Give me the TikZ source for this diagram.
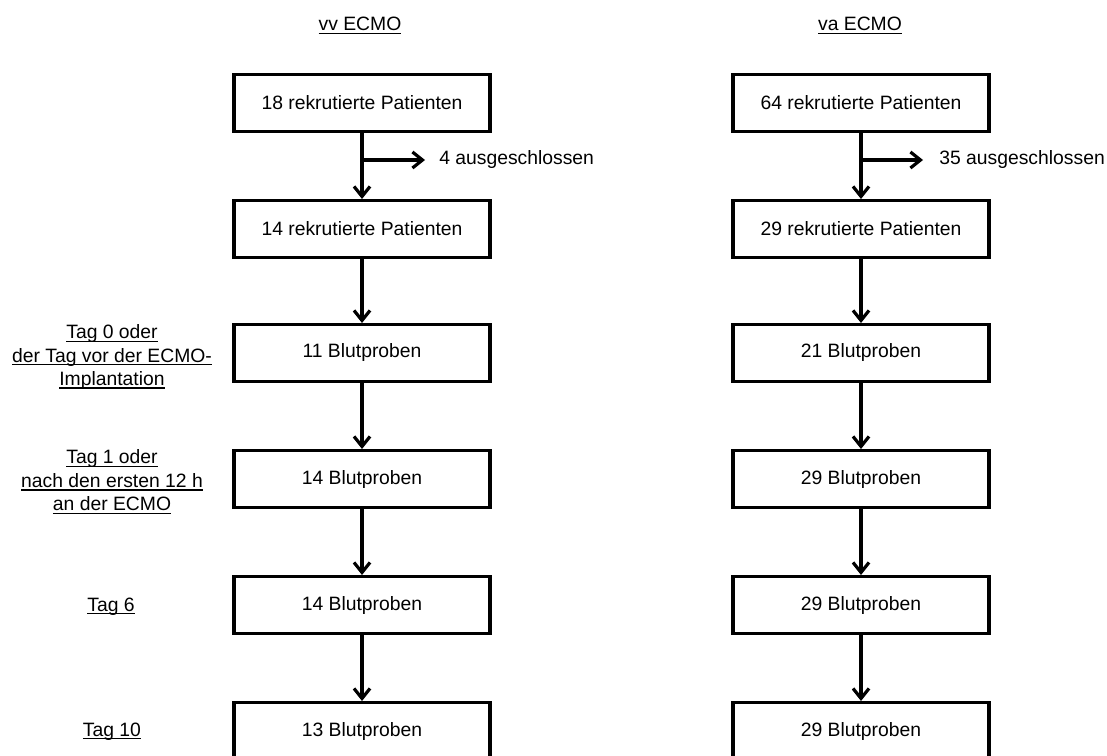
\documentclass[tikz,border=0pt]{standalone}
\usepackage{fontspec}
\setmainfont{Liberation Sans}
\newsavebox\ulbox
\newcommand\myul[1]{\leavevmode\sbox\ulbox{#1}\rlap{\rule[-2.6pt]{\wd\ulbox}{1.1pt}}\usebox\ulbox}
\usetikzlibrary{arrows.meta}
\begin{document}
\begin{tikzpicture}[x=0.75pt,y=-0.75pt,
  txt/.style={font=\fontsize{14.5}{17.6}\selectfont},
  box/.style={txt,draw,line width=2.5pt,minimum width=192pt,minimum height=42.5pt,inner sep=0pt},
  lbl/.style={txt,inner sep=0pt,align=center},
  arr/.style={line width=2.4pt,-{Straight Barb[length=7.5pt,width=12pt]}}]
\useasboundingbox (0,0) rectangle (1107,756);
% titles
\node[lbl,anchor=base] (t1) at (360,31) {\myul{vv ECMO}};
\node[lbl,anchor=base] (t2) at (860,31) {\myul{va ECMO}};
% left column
\node[box] (l1) at (362,103) {18 rekrutierte Patienten};
\node[box] (l2) at (362,229) {14 rekrutierte Patienten};
\node[box] (l3) at (362,353) {11 Blutproben};
\node[box] (l4) at (362,479) {14 Blutproben};
\node[box] (l5) at (362,605) {14 Blutproben};
\node[box] (l6) at (362,731) {13 Blutproben};
% right column
\node[box] (r1) at (861,103) {64 rekrutierte Patienten};
\node[box] (r2) at (861,229) {29 rekrutierte Patienten};
\node[box] (r3) at (861,353) {21 Blutproben};
\node[box] (r4) at (861,479) {29 Blutproben};
\node[box] (r5) at (861,605) {29 Blutproben};
\node[box] (r6) at (861,731) {29 Blutproben};
% exclusions
\coordinate (lb) at (362,160);
\coordinate (rb) at (861,160);
\node[lbl,anchor=west] (lx) at (439,160) {4 ausgeschlossen};
\node[lbl,anchor=west] (rx) at (939,160) {35 ausgeschlossen};
\draw[arr,shorten >=10.5pt] (lb) -- (lx.west);
\draw[arr,shorten >=12pt] (rb) -- (rx.west);
% vertical arrows
\foreach \a/\b in {l1/l2,l2/l3,l3/l4,l4/l5,l5/l6,r1/r2,r2/r3,r3/r4,r4/r5,r5/r6}
  \draw[arr] (\a.south) -- (\b.north);
% time labels
\node[lbl] (d0) at (112,357) {\myul{Tag 0 oder}\\\myul{der Tag vor der ECMO-}\\\myul{Implantation}};
\node[lbl] (d1) at (112,482) {\myul{Tag 1 oder}\\\myul{nach den ersten 12 h}\\\myul{an der ECMO}};
\node[lbl,anchor=base] (d6) at (111,611) {\myul{Tag 6}};
\node[lbl,anchor=base] (d10) at (112,736) {\myul{Tag 10}};
\end{tikzpicture}
\end{document}
